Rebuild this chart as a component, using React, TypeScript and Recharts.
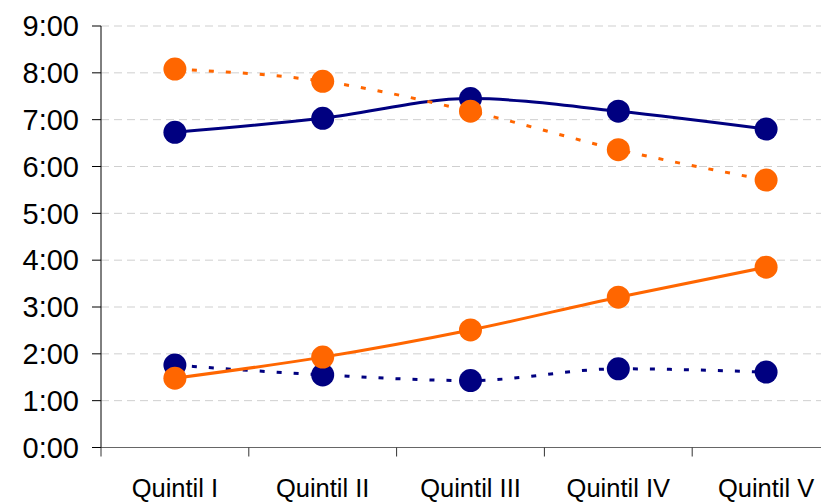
import { LineChart, Line, XAxis, YAxis, CartesianGrid } from "recharts";

const quintiles = ["Quintil I", "Quintil II", "Quintil III", "Quintil IV", "Quintil V"];
const navySolid = [6.73, 7.03, 7.45, 7.18, 6.8];
const orangeDashed = [8.08, 7.82, 7.18, 6.36, 5.71];
const orangeSolid = [1.48, 1.93, 2.51, 3.21, 3.85];
const navyDotted = [1.76, 1.55, 1.43, 1.68, 1.61];
const hourTicks = [0, 1, 2, 3, 4, 5, 6, 7, 8, 9];

const data = quintiles.map((q, i) => ({
  name: q,
  navySolid: navySolid[i],
  orangeDashed: orangeDashed[i],
  orangeSolid: orangeSolid[i],
  navyDotted: navyDotted[i],
}));

const NAVY = "#000080";
const ORANGE = "#FF6600";
const FONT = "'Liberation Sans', Arial, sans-serif";

const W = 850;
const H = 494;
const M = { top: 18, right: 18, left: 0, bottom: 0 };
const Y_W = 93;
const BAND = (W - M.left - M.right - Y_W) / quintiles.length;

function QuintilTick(props: any) {
  const { x, y, payload, index } = props;
  return (
    <g>
      <line x1={x - BAND / 2} x2={x - BAND / 2} y1={y} y2={y + 9} stroke="#333" strokeWidth={1} />
      {index === quintiles.length - 1 && (
        <line x1={x + BAND / 2} x2={x + BAND / 2} y1={y} y2={y + 9} stroke="#333" strokeWidth={1} />
      )}
      <text x={x} y={y + 49} textAnchor="middle" fontSize={25.5} fontFamily={FONT} fill="#000">
        {payload.value}
      </text>
    </g>
  );
}

const dot = (color: string) => ({ r: 11.5, fill: color, stroke: color, strokeWidth: 0 });

export default function App() {
  return (
    <div style={{ width: 821, height: 494, overflow: "hidden" }}>
      <LineChart width={W} height={H} data={data} margin={M}>
        <CartesianGrid vertical={false} stroke="#cfcfcf" strokeDasharray="8 5" />
        <XAxis
          dataKey="name"
          tick={<QuintilTick />}
          tickLine={false}
          tickSize={0}
          tickMargin={0}
          padding={{ left: BAND / 2, right: BAND / 2 }}
          height={H - M.top - M.bottom - 421.5}
          stroke="#666"
          interval={0}
        />
        <YAxis
          width={Y_W}
          domain={[0, 9]}
          ticks={hourTicks}
          interval={0}
          tickFormatter={(v: number) => `${v}:00`}
          tickSize={9}
          tickMargin={13}
          stroke="#000"
          tick={{ fontSize: 29, fill: "#000", fontFamily: FONT }}
        />
        <Line dataKey="navySolid" type="monotone" stroke={NAVY} strokeWidth={3} dot={dot(NAVY)} activeDot={false} isAnimationActive={false} />
        <Line dataKey="navyDotted" type="monotone" stroke={NAVY} strokeWidth={3} strokeDasharray="5 12" dot={dot(NAVY)} activeDot={false} isAnimationActive={false} />
        <Line dataKey="orangeDashed" type="monotone" stroke={ORANGE} strokeWidth={3} strokeDasharray="5 12" dot={dot(ORANGE)} activeDot={false} isAnimationActive={false} />
        <Line dataKey="orangeSolid" type="monotone" stroke={ORANGE} strokeWidth={3} dot={dot(ORANGE)} activeDot={false} isAnimationActive={false} />
      </LineChart>
    </div>
  );
}
